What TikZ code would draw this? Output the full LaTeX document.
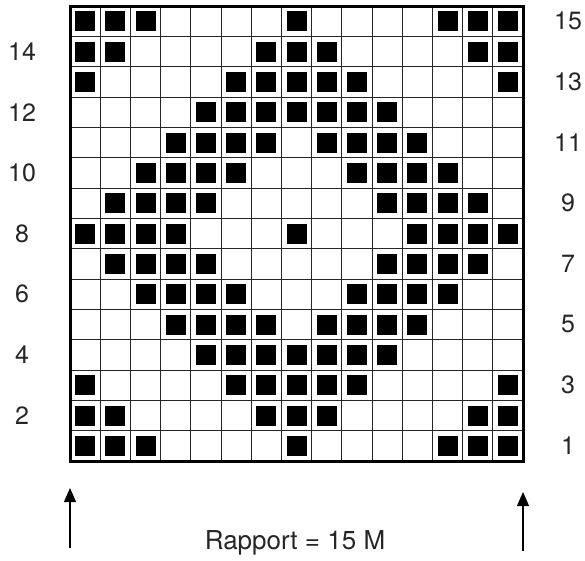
\documentclass[tikz,border=0pt]{standalone}
\usepackage{fontspec}
\setmainfont{TeX Gyre Heros}
\usetikzlibrary{arrows.meta}
\begin{document}
\begin{tikzpicture}[x=1pt,y=1pt,
  lbl/.style={font=\fontsize{25}{29}\selectfont, inner sep=0pt, text=black!85},
  caption/.style={font=\fontsize{26}{30}\selectfont, inner sep=0pt, text=black!85},
  stitch/.style={fill=black},
  gridline/.style={line width=1pt, draw=black!85},
  frame/.style={line width=3pt, draw=black},
  arr/.style={line width=1.1pt, -{Triangle[width=12pt,length=14pt]}}]
\useasboundingbox (0,0) rectangle (585,-560);
\def\cw{30.2}
\def\ch{30.333}
% inner grid lines
\foreach \i in {1,...,14} {
  \draw[gridline] ({70+\i*\cw},-6) -- ({70+\i*\cw},-461);
  \draw[gridline] (70,{-6-\i*\ch}) -- (523,{-6-\i*\ch});
}
% filled stitches: row (1 = bottom) / columns (1 = left)
\foreach \r/\cols in {
  15/{1,2,3,8,13,14,15},
  14/{1,2,7,8,9,14,15},
  13/{1,6,7,8,9,10,15},
  12/{5,6,7,8,9,10,11},
  11/{4,5,6,7,9,10,11,12},
  10/{3,4,5,6,10,11,12,13},
  9/{2,3,4,5,11,12,13,14},
  8/{1,2,3,4,8,12,13,14,15},
  7/{2,3,4,5,11,12,13,14},
  6/{3,4,5,6,10,11,12,13},
  5/{4,5,6,7,9,10,11,12},
  4/{5,6,7,8,9,10,11},
  3/{1,6,7,8,9,10,15},
  2/{1,2,7,8,9,14,15},
  1/{1,2,3,8,13,14,15}} {
  \foreach \c in \cols {
    \fill[stitch] ({70+(\c-0.5)*\cw-10},{-6-(15-\r+0.5)*\ch-10}) rectangle ++(20,20);
  }
}
% outer frame
\draw[frame] (70,-6) rectangle (523,-461);
% row numbers
\foreach \r in {14,12,10,8,6,4,2} {
  \node[lbl] (left\r) at (22,{-6-(15-\r+0.5)*\ch}) {\r};
}
\foreach \r in {15,13,11,9,7,5,3,1} {
  \node[lbl] (right\r) at (568,{-6-(15-\r+0.5)*\ch}) {\r};
}
% repeat arrows
\coordinate (la0) at (70,-548);
\coordinate (la1) at (70,-488);
\coordinate (ra0) at (523,-551);
\coordinate (ra1) at (523,-492);
\draw[arr] (la0) -- (la1);
\draw[arr] (ra0) -- (ra1);
\node[caption] (rapport) at (295,-543) {Rapport = 15 M};
\end{tikzpicture}
\end{document}
